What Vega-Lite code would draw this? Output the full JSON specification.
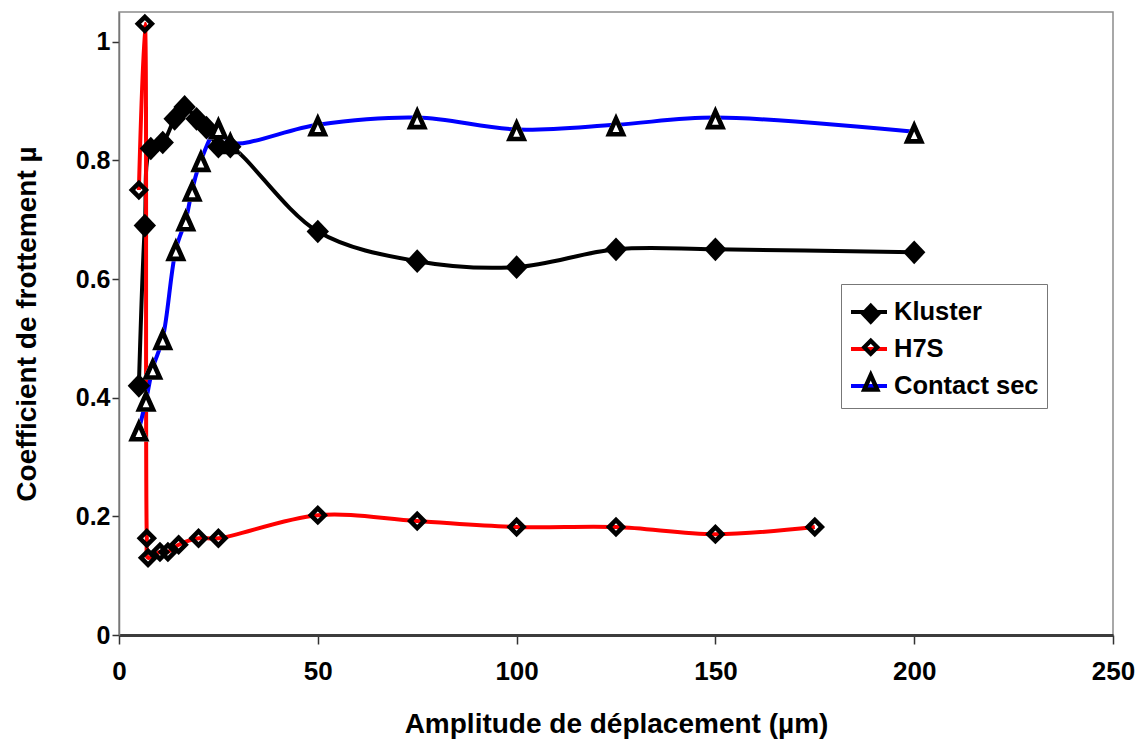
{
  "$schema": "https://vega.github.io/schema/vega-lite/v6.json",
  "width": 994,
  "height": 623,
  "autosize": {"type": "none"},
  "padding": {"left": 119, "top": 12, "right": 28, "bottom": 105},
  "background": "white",
  "config": {
    "font": "Liberation Sans",
    "view": {"stroke": "#8c8c8c", "strokeWidth": 1.5},
    "axis": {
      "grid": false,
      "labelFont": "Liberation Sans",
      "labelFontWeight": "bold",
      "titleFont": "Liberation Sans",
      "titleFontWeight": "bold",
      "labelColor": "black",
      "titleColor": "black",
      "tickColor": "#333333",
      "tickWidth": 1.5,
      "labelFontSize": 25,
      "titleFontSize": 28
    }
  },
  "data": {
    "values": [
      {"series": "Kluster", "x": 5, "y": 0.42},
      {"series": "Kluster", "x": 6.5, "y": 0.69},
      {"series": "Kluster", "x": 8, "y": 0.82},
      {"series": "Kluster", "x": 11, "y": 0.83},
      {"series": "Kluster", "x": 14, "y": 0.87},
      {"series": "Kluster", "x": 16.5, "y": 0.89},
      {"series": "Kluster", "x": 19.5, "y": 0.87},
      {"series": "Kluster", "x": 22, "y": 0.855},
      {"series": "Kluster", "x": 25, "y": 0.823},
      {"series": "Kluster", "x": 28, "y": 0.823},
      {"series": "Kluster", "x": 50, "y": 0.68},
      {"series": "Kluster", "x": 75, "y": 0.63},
      {"series": "Kluster", "x": 100, "y": 0.62},
      {"series": "Kluster", "x": 125, "y": 0.65},
      {"series": "Kluster", "x": 150, "y": 0.65},
      {"series": "Kluster", "x": 200, "y": 0.645},
      {"series": "H7S", "x": 5, "y": 0.75},
      {"series": "H7S", "x": 6.5, "y": 1.03},
      {"series": "H7S", "x": 7, "y": 0.163},
      {"series": "H7S", "x": 7.3, "y": 0.13},
      {"series": "H7S", "x": 10.3, "y": 0.14},
      {"series": "H7S", "x": 12.3, "y": 0.14},
      {"series": "H7S", "x": 15, "y": 0.152},
      {"series": "H7S", "x": 20, "y": 0.163},
      {"series": "H7S", "x": 25, "y": 0.163},
      {"series": "H7S", "x": 50, "y": 0.202},
      {"series": "H7S", "x": 75, "y": 0.192},
      {"series": "H7S", "x": 100, "y": 0.182},
      {"series": "H7S", "x": 125, "y": 0.182},
      {"series": "H7S", "x": 150, "y": 0.17},
      {"series": "H7S", "x": 175, "y": 0.182},
      {"series": "Contact sec", "x": 5, "y": 0.346},
      {"series": "Contact sec", "x": 6.8, "y": 0.396},
      {"series": "Contact sec", "x": 8.5, "y": 0.45},
      {"series": "Contact sec", "x": 11, "y": 0.5},
      {"series": "Contact sec", "x": 14.3, "y": 0.65},
      {"series": "Contact sec", "x": 16.8, "y": 0.7},
      {"series": "Contact sec", "x": 18.4, "y": 0.75},
      {"series": "Contact sec", "x": 20.6, "y": 0.8},
      {"series": "Contact sec", "x": 25, "y": 0.855},
      {"series": "Contact sec", "x": 28, "y": 0.83},
      {"series": "Contact sec", "x": 50, "y": 0.86},
      {"series": "Contact sec", "x": 75, "y": 0.872},
      {"series": "Contact sec", "x": 100, "y": 0.852},
      {"series": "Contact sec", "x": 125, "y": 0.86},
      {"series": "Contact sec", "x": 150, "y": 0.872},
      {"series": "Contact sec", "x": 200, "y": 0.848}
    ]
  },
  "encoding": {
    "x": {
      "field": "x",
      "type": "quantitative",
      "scale": {"domain": [0, 250], "nice": false},
      "axis": {
        "title": "Amplitude de déplacement (µm)",
        "values": [0, 50, 100, 150, 200, 250],
        "tickSize": 9,
        "labelPadding": 14,
        "titlePadding": 26,
        "domainColor": "#3c3c3c",
        "domainWidth": 3,
        "labelFontSize": 26,
        "labelFlush": false
      }
    },
    "y": {
      "field": "y",
      "type": "quantitative",
      "scale": {"domain": [0, 1.05], "nice": false},
      "axis": {
        "title": "Coefficient de frottement µ",
        "values": [0, 0.2, 0.4, 0.6, 0.8, 1],
        "format": "~g",
        "tickSize": 7,
        "labelPadding": 2,
        "titlePadding": 34,
        "domainColor": "#777777",
        "domainWidth": 1.5
      }
    }
  },
  "layer": [
    {
      "mark": {"type": "line", "interpolate": "catmull-rom", "clip": true, "strokeWidth": 4},
      "encoding": {
        "color": {
          "field": "series",
          "type": "nominal",
          "scale": {"domain": ["Kluster", "H7S", "Contact sec"], "range": ["#000000", "#ff0000", "#0000ff"]},
          "legend": {
            "orient": "none",
            "legendX": 722,
            "legendY": 272,
            "title": null,
            "symbolType": "stroke",
            "symbolSize": 1296,
            "symbolStrokeWidth": 4,
            "labelFontSize": 25.5,
            "labelFont": "Liberation Sans",
            "labelFontWeight": "bold",
            "labelColor": "black",
            "strokeColor": "#777777",
            "fillColor": "white",
            "padding": 8,
            "rowPadding": 3,
            "labelOffset": 5
          }
        }
      }
    },
    {
      "transform": [{"filter": "datum.series === 'Contact sec'"}],
      "mark": {"type": "point", "filled": true, "fill": "white", "strokeWidth": 0, "opacity": 1, "size": 620, "shape": "M0,-0.95L0.85,0.95L-0.85,0.95Z"}
    },
    {
      "mark": {"type": "point", "filled": true, "color": "black", "strokeWidth": 0, "opacity": 1, "size": 620},
      "encoding": {
        "shape": {
          "field": "series",
          "type": "nominal",
          "sort": "descending",
          "scale": {
            "range": [
              "M-0.9,0L0,-0.95L0.9,0L0,0.95Z",
              "M-0.82,0L0,-0.82L0.82,0L0,0.82ZM-0.3,0L0,0.3L0.3,0L0,-0.3Z",
              "M0,-0.95L0.85,0.95L-0.85,0.95ZM0,-0.02L-0.27,0.58L0.27,0.58Z"
            ]
          },
          "legend": {
            "orient": "none",
            "legendX": 731,
            "legendY": 281,
            "title": null,
            "symbolSize": 540,
            "symbolFillColor": "black",
            "symbolStrokeColor": "transparent",
            "symbolStrokeWidth": 0,
            "symbolOpacity": 1,
            "labelOpacity": 0,
            "labelFontSize": 25.5,
            "padding": 8,
            "rowPadding": 6.5
          }
        }
      }
    }
  ]
}
